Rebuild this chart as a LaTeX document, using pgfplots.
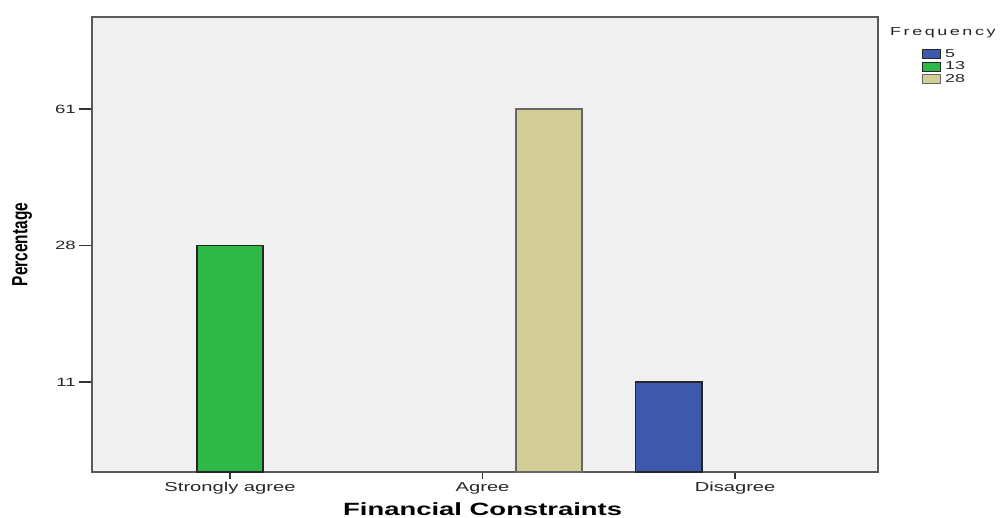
\documentclass[border=0pt]{standalone}
\usepackage{fontspec}
\setmainfont{Liberation Sans}[FakeStretch=1.55]
\newfontfamily\narrowsans{Liberation Sans}[FakeStretch=0.7]
\usepackage{pgfplots}
\pgfplotsset{compat=1.18}

\definecolor{bgc}{HTML}{F0F0F0}
\definecolor{cfive}{HTML}{3E58AC}
\definecolor{cthirteen}{HTML}{2EB848}
\definecolor{ctwentyeight}{HTML}{D3CE97}
\definecolor{txt}{HTML}{262626}

\pgfplotsset{
  boxlegend/.style={legend image code/.code={
      \draw[##1, line width=1pt] (0pt,-4.5pt) rectangle (18pt,4.5pt);}},
}

\begin{document}
\begin{tikzpicture}
\path[use as bounding box] (0pt,0pt) rectangle (1003pt,518pt);
% y axis is ordinal (SPSS style): positions 1,2,3 stand for 11%, 28%, 61%
\begin{axis}[
    at={(92pt,46pt)}, anchor=south west,
    scale only axis, width=786pt, height=455pt,
    ybar=0pt, bar width=66.5pt,
    xmin=-0.5465, xmax=2.566,
    ymin=0.341, ymax=3.674,
    xtick={0,1,2}, xticklabels={Strongly agree,Agree,Disagree},
    ytick={1,2,3}, yticklabels={11,28,61},
    xtick pos=bottom, ytick pos=left,
    tick align=outside,
    major tick length=7pt,
    ytick style={/pgfplots/major tick length=13pt},
    tick style={black!80, line width=1.2pt},
    axis background/.style={fill=bgc},
    axis line style={black!65, line width=1.4pt},
    xticklabel style={font=\fontsize{13}{15}\selectfont, text=txt, inner sep=0pt, yshift=-3pt},
    yticklabel style={font=\fontsize{12}{14}\selectfont, text=txt, inner sep=0pt, xshift=-9pt},
    xlabel={\bfseries Financial Constraints},
    ylabel={\narrowsans\bfseries Percentage},
    every axis x label/.style={at={(axis description cs:0.497,-0.0967)}, anchor=base,
      font=\fontsize{17.7}{20}\selectfont},
    every axis y label/.style={at={(axis description cs:-0.089,0.5)}, anchor=center,
      rotate=90, font=\fontsize{22}{24}\selectfont},
    clip=false,
    legend style={draw=none, fill=none, inner sep=0pt,
      at={(1.056,0.932)}, anchor=north west,
      cells={anchor=west},
      nodes={inner sep=1pt, text height=8pt, text depth=2.5pt},
      font=\fontsize{11.5}{13}\selectfont, text=txt,
      /tikz/every odd column/.style={column sep=3pt}},
    every axis plot post/.append style={boxlegend},
  ]
  \addplot[fill=cfive, draw=black!85, line width=1.6pt, boxlegend]
    coordinates {(2,1)};
  \addlegendentry{5}
  \addplot[fill=cthirteen, draw=black!85, line width=1.6pt, boxlegend]
    coordinates {(0,2)};
  \addlegendentry{13}
  \addplot[fill=ctwentyeight, draw=black!60, line width=1.6pt, boxlegend]
    coordinates {(1,3)};
  \addlegendentry{28}
  \node[anchor=base west, text=txt, font=\fontsize{11.6}{13}\selectfont]
    at (rel axis cs:1.011,0.960) {\addfontfeature{LetterSpace=22}Frequency};
\end{axis}
\end{tikzpicture}
\end{document}
